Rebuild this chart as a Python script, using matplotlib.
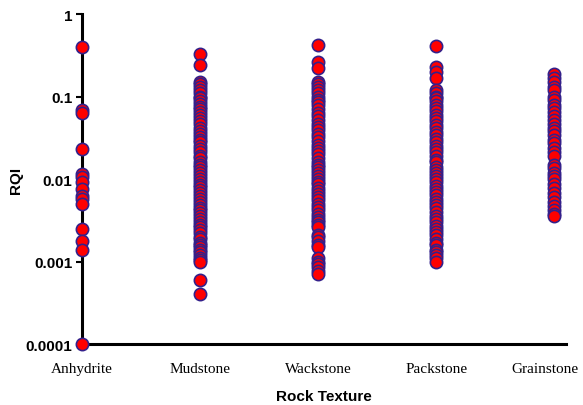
import numpy as np
import matplotlib.pyplot as plt

textures = ["Anhydrite", "Mudstone", "Wackstone", "Packstone", "Grainstone"]

anhydrite = [0.4, 0.068, 0.063, 0.023, 0.0115, 0.0106, 0.0093, 0.0076, 0.0062,
             0.0057, 0.005, 0.0025, 0.0018, 0.0014, 0.0001]
mudstone = [0.33, 0.24, 0.15, 0.14, 0.13, 0.12, 0.11, 0.10, 0.095, 0.088, 0.082,
            0.075, 0.07, 0.065, 0.06, 0.055, 0.05, 0.046, 0.042, 0.038, 0.035,
            0.032, 0.03, 0.028, 0.025, 0.023, 0.021, 0.019, 0.018, 0.016, 0.015,
            0.014, 0.013, 0.012, 0.011, 0.01, 0.0092, 0.0085, 0.008, 0.0074,
            0.0068, 0.0062, 0.0058, 0.0053, 0.0049, 0.0045, 0.0042, 0.0039,
            0.0036, 0.0033, 0.003, 0.0028, 0.0026, 0.0024, 0.0022, 0.002, 0.0019,
            0.0017, 0.0016, 0.0015, 0.0014, 0.0013, 0.0012, 0.0011, 0.00105,
            0.001, 0.0006, 0.0004]
wackstone = [0.42, 0.26, 0.22, 0.15, 0.14, 0.13, 0.12, 0.11, 0.1, 0.092, 0.085,
             0.078, 0.07, 0.064, 0.058, 0.052, 0.047, 0.043, 0.039, 0.035, 0.032,
             0.029, 0.026, 0.024, 0.022, 0.02, 0.018, 0.016, 0.015, 0.014, 0.013,
             0.012, 0.011, 0.01, 0.0093, 0.0086, 0.0079, 0.0072, 0.0066, 0.006,
             0.0055, 0.005, 0.0046, 0.0042, 0.0038, 0.0035, 0.0032, 0.003, 0.0028,
             0.0026, 0.0021, 0.002, 0.0018, 0.0016, 0.0015, 0.0011, 0.001,
             0.00093, 0.00085, 0.00077, 0.0007]
packstone = [0.41, 0.23, 0.2, 0.17, 0.12, 0.11, 0.1, 0.095, 0.088, 0.08, 0.073,
             0.066, 0.06, 0.055, 0.05, 0.045, 0.041, 0.037, 0.034, 0.031, 0.028,
             0.025, 0.023, 0.021, 0.019, 0.017, 0.016, 0.014, 0.013, 0.012, 0.011,
             0.01, 0.0091, 0.0083, 0.0076, 0.007, 0.0064, 0.0058, 0.0053, 0.0048,
             0.0044, 0.004, 0.0036, 0.0033, 0.003, 0.0027, 0.0025, 0.0023, 0.0021,
             0.0019, 0.0017, 0.0016, 0.0014, 0.0013, 0.0012, 0.0011, 0.001]
grainstone = [0.19, 0.17, 0.15, 0.13, 0.12, 0.1, 0.09, 0.08, 0.072, 0.065, 0.058,
              0.052, 0.047, 0.042, 0.038, 0.034, 0.03, 0.027, 0.024, 0.021, 0.019,
              0.015, 0.0135, 0.012, 0.011, 0.01, 0.0088, 0.0078, 0.0068, 0.006,
              0.0053, 0.0047, 0.0042, 0.0038, 0.0036]

groups = [anhydrite, mudstone, wackstone, packstone, grainstone]

fig = plt.figure(figsize=(5.83, 4.06), dpi=100)
ax = fig.add_axes([0.141, 0.150, 0.830, 0.813])

for i, vals in enumerate(groups):
    ax.scatter(np.full(len(vals), i), vals, s=78, c="#ff0000",
               edgecolors="#34208a", linewidths=1.2, zorder=3, clip_on=False)

ax.set_yscale("log")
ax.set_ylim(0.0001, 1)
ax.set_xlim(0, 4.1)
ax.set_yticks([0.0001, 0.001, 0.01, 0.1, 1])
ax.set_yticklabels(["0.0001", "0.001", "0.01", "0.1", "1"])
ax.minorticks_off()
ax.set_xticks(range(len(textures)))
ax.set_xticklabels([])

for lab in ax.get_yticklabels():
    lab.set_family("Liberation Sans")
    lab.set_fontweight("bold")
    lab.set_fontsize(11)

# category names under the axis; the last one is pulled in a little
for i, name in enumerate(textures):
    dx = -7 if i == len(textures) - 1 else 0
    ax.annotate(name, xy=(i, 0), xycoords=ax.get_xaxis_transform(),
                xytext=(dx, -13), textcoords="offset points",
                ha="center", va="top", family="Liberation Serif", fontsize=11)

ax.tick_params(axis="x", length=0)
ax.tick_params(axis="y", length=4, width=1.5, direction="out", pad=3)

for side in ["top", "right"]:
    ax.spines[side].set_visible(False)
for side in ["left", "bottom"]:
    ax.spines[side].set_linewidth(2.2)

ax.set_ylabel("RQI", family="Liberation Sans", fontweight="bold", fontsize=11,
              labelpad=2)
ax.text(0.5, -0.135, "Rock Texture", transform=ax.transAxes, ha="center",
        va="top", family="Liberation Sans", fontweight="bold", fontsize=11)

fig.savefig("out.png", dpi=100)
